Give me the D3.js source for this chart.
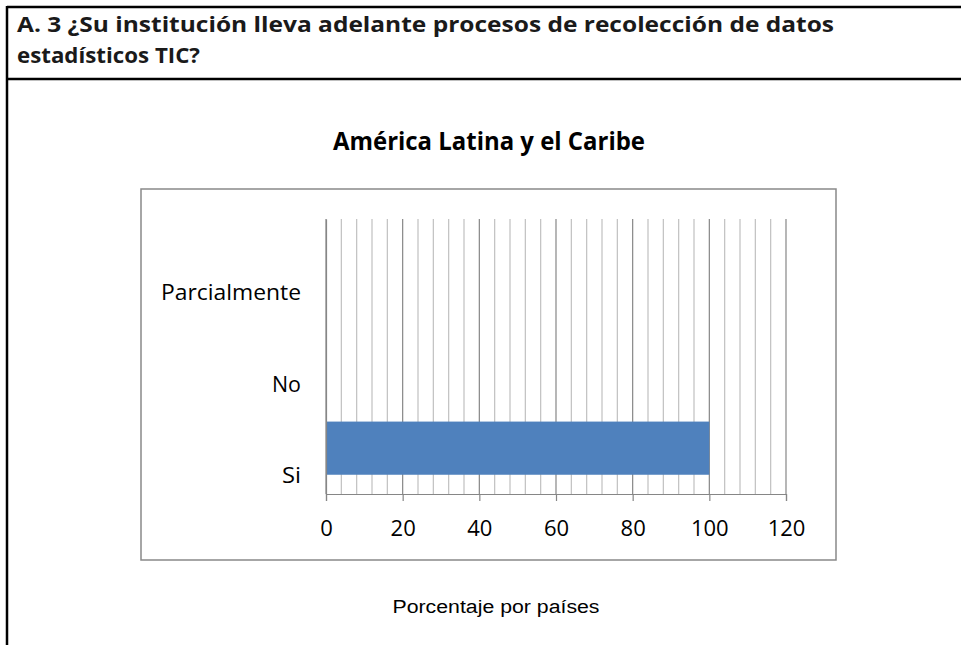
<!DOCTYPE html>
<html>
<head>
<meta charset="utf-8">
<script src="https://cdn.jsdelivr.net/npm/d3@7"></script>
<style>
  body { margin: 0; background: #fff; }
  svg { display: block; }
</style>
</head>
<body>
<svg id="chart"></svg>
<script>
// data
var categories = ["Si", "No", "Parcialmente"];
var values = [100, 0, 0];
var majorTicks = [0, 20, 40, 60, 80, 100, 120];
var minorTicks = d3.range(0, 121, 4);

var headerLines = ["A. 3 \u00BFSu instituci\u00F3n lleva adelante procesos de recolecci\u00F3n de datos",
                   "estad\u00EDsticos TIC?"];
var chartTitle = "Am\u00E9rica Latina y el Caribe";
var footNote = "Porcentaje por pa\u00EDses";

var W = 961, H = 645;
var font = "'Open Sans', 'Noto Sans', sans-serif";
var svg = d3.select("#chart").attr("width", W).attr("height", H);

// the screenshot is stretched sideways, so squeeze text to the widths seen there
function fit(sel, w) {
  sel.attr("textLength", w).attr("lengthAdjust", "spacingAndGlyphs");
}

// table frame around the question
svg.append("line").attr("x1", 7).attr("x2", W).attr("y1", 7).attr("y2", 7)
  .attr("stroke", "#000").attr("stroke-width", 2.5);
svg.append("line").attr("x1", 7).attr("x2", W).attr("y1", 79).attr("y2", 79)
  .attr("stroke", "#000").attr("stroke-width", 2.5);
svg.append("line").attr("x1", 7).attr("x2", 7).attr("y1", 6).attr("y2", H)
  .attr("stroke", "#000").attr("stroke-width", 2.5);

var hdrWidths = [817, 183];
svg.selectAll("text.hdr").data(headerLines).enter().append("text")
  .attr("class", "hdr")
  .attr("x", 17)
  .attr("y", function(d, i) { return 32 + i * 31; })
  .attr("textLength", function(d, i) { return hdrWidths[i]; })
  .attr("lengthAdjust", "spacingAndGlyphs")
  .style("font-family", font)
  .style("font-weight", "bold")
  .style("font-size", "21px")
  .style("fill", "#1a1a1a")
  .text(function(d) { return d; });

// chart box
svg.append("rect").attr("x", 141).attr("y", 189).attr("width", 695).attr("height", 371)
  .attr("fill", "#fff").attr("stroke", "#898989").attr("stroke-width", 1.5);

svg.append("text")
  .attr("x", 489).attr("y", 150)
  .attr("text-anchor", "middle")
  .style("font-family", font)
  .style("font-weight", "bold")
  .style("font-size", "25px")
  .style("fill", "#000")
  .text(chartTitle)
  .call(fit, 312);

var x = d3.scaleLinear().domain([0, 120]).range([326, 786]);
var y = d3.scaleBand().domain(categories).range([494, 219])
  .paddingInner(0.42).paddingOuter(0.21);

// minor grid
svg.append("g").selectAll("line").data(minorTicks.filter(function(d) { return d % 20 !== 0; }))
  .enter().append("line")
  .attr("x1", function(d) { return x(d); }).attr("x2", function(d) { return x(d); })
  .attr("y1", 219).attr("y2", 494)
  .attr("stroke", "#c0c0c0").attr("stroke-width", 1.2);

// major grid
svg.append("g").selectAll("line").data(majorTicks)
  .enter().append("line")
  .attr("x1", function(d) { return x(d); }).attr("x2", function(d) { return x(d); })
  .attr("y1", 219).attr("y2", 494)
  .attr("stroke", "#868686").attr("stroke-width", 1.2);

// bars
svg.append("g").selectAll("rect").data(categories)
  .enter().append("rect")
  .attr("x", x(0))
  .attr("y", function(d) { return y(d); })
  .attr("width", function(d, i) { return x(values[i]) - x(0); })
  .attr("height", y.bandwidth())
  .attr("fill", "#4F81BD");

// x axis
var xAxis = svg.append("g")
  .attr("transform", "translate(0,494)")
  .call(d3.axisBottom(x).tickValues(majorTicks).tickSize(7).tickPadding(12));
xAxis.select(".domain").attr("stroke", "#868686").attr("stroke-width", 1.2);
xAxis.selectAll(".tick line").attr("stroke", "#868686").attr("stroke-width", 1.2);
xAxis.selectAll("text")
  .attr("y", 42).attr("dy", 0)
  .style("font-family", font)
  .style("font-size", "22px")
  .attr("fill", "#000");

// y axis, labels sit lower than the band centres in the reference
var labelWidths = { "Si": 19, "No": 29, "Parcialmente": 140 };
var yAxis = svg.append("g")
  .attr("transform", "translate(326,0)")
  .call(d3.axisLeft(y).tickSize(0).tickPadding(25));
yAxis.select(".domain").attr("stroke", "#868686").attr("stroke-width", 1.2);
yAxis.selectAll("text")
  .attr("dy", 35)
  .attr("textLength", function(d) { return labelWidths[d]; })
  .attr("lengthAdjust", "spacingAndGlyphs")
  .style("font-family", font)
  .style("font-size", "22px")
  .attr("fill", "#000");

svg.append("text")
  .attr("x", 496).attr("y", 613)
  .attr("text-anchor", "middle")
  .style("font-family", "'Liberation Sans', Arial, sans-serif")
  .style("font-size", "18px")
  .style("fill", "#000")
  .text(footNote)
  .call(fit, 207);
</script>
</body>
</html>
